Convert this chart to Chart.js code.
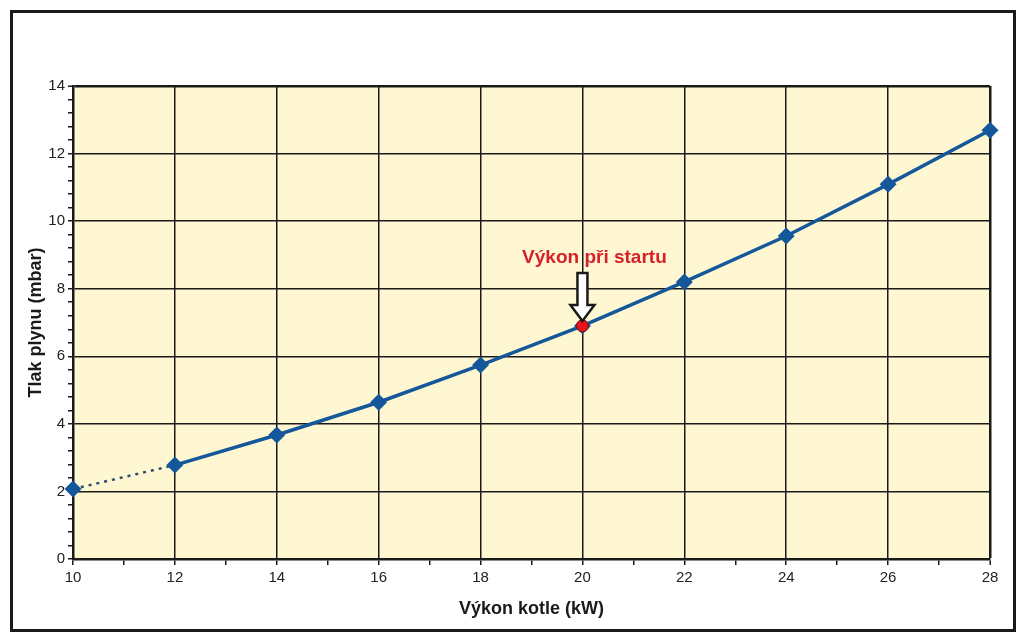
<!DOCTYPE html>
<html>
<head>
<meta charset="utf-8">
<script src="https://cdn.jsdelivr.net/npm/chart.js@4"></script>
<style>
  body { margin: 0; background: #fff; }
  #frame { position: absolute; left: 10px; top: 10px; width: 1000px; height: 616px; border: 3px solid #1a1a1a; }
  #wrap { position: absolute; left: 0; top: 0; width: 1024px; height: 642px; }
</style>
</head>
<body>
<div id="frame"></div>
<div id="wrap"><canvas id="myChart" width="1024" height="642"></canvas></div>
<script>
// data
const vykon = [10, 12, 14, 16, 18, 20, 22, 24, 26, 28];
const tlak = [2.07, 2.78, 3.67, 4.64, 5.74, 6.9, 8.2, 9.56, 11.09, 12.69];
const startX = 20;
const startY = 6.9;
const startLabel = 'Výkon při startu';
const xTitle = 'Výkon kotle (kW)';
const yTitle = 'Tlak plynu (mbar)';

const FONT = '"Liberation Sans", Arial, sans-serif';
const isMajor = (v, step) => Math.abs(v / step - Math.round(v / step)) < 1e-6;

//! plot background >>
const bgPlugin = {
  id: 'bg',
  beforeDraw(chart) {
    const { ctx, chartArea: a } = chart;
    ctx.save();
    ctx.fillStyle = '#fef7d2';
    ctx.fillRect(a.left, a.top, a.right - a.left, a.bottom - a.top);
    ctx.restore();
  }
};

//! arrow + label at start point >>
const startPlugin = {
  id: 'startMark',
  afterDatasetsDraw(chart) {
    const { ctx, scales } = chart;
    const px = scales.x.getPixelForValue(startX);
    const py = scales.y.getPixelForValue(startY);
    const tip = py - 5;
    ctx.save();
    ctx.beginPath();
    ctx.moveTo(px - 5, tip - 48);
    ctx.lineTo(px + 5, tip - 48);
    ctx.lineTo(px + 5, tip - 16);
    ctx.lineTo(px + 12, tip - 16);
    ctx.lineTo(px, tip);
    ctx.lineTo(px - 12, tip - 16);
    ctx.lineTo(px - 5, tip - 16);
    ctx.closePath();
    ctx.fillStyle = '#ffffff';
    ctx.fill();
    ctx.lineWidth = 2.5;
    ctx.lineJoin = 'miter';
    ctx.strokeStyle = '#1a1a1a';
    ctx.stroke();

    ctx.fillStyle = '#d7202a';
    ctx.font = 'bold 19px ' + FONT;
    ctx.textAlign = 'center';
    ctx.textBaseline = 'middle';
    ctx.fillText(startLabel, px + 12, tip - 63);
    ctx.restore();
  }
};

new Chart('myChart', {
  type: 'line',
  data: {
    datasets: [{
      data: vykon.map((v, i) => ({ x: v, y: tlak[i] })),
      borderColor: '#14579a',
      backgroundColor: '#14579a',
      borderWidth: 3.5,
      pointStyle: 'rectRot',
      pointRadius: 6,
      pointHoverRadius: 6,
      tension: 0,
      clip: false,
      segment: {
        borderDash: ctx => ctx.p0DataIndex === 0 ? [3, 5] : undefined,
        borderWidth: ctx => ctx.p0DataIndex === 0 ? 2.5 : undefined,
        borderColor: ctx => ctx.p0DataIndex === 0 ? '#2c4f72' : undefined
      },
      order: 2
    }, {
      data: [{ x: startX, y: startY }],
      showLine: false,
      pointStyle: 'circle',
      pointRadius: 6,
      pointBackgroundColor: '#e8141c',
      pointBorderColor: '#7a1010',
      pointBorderWidth: 1,
      clip: false,
      order: 1
    }]
  },
  options: {
    responsive: false,
    animation: false,
    layout: { padding: { left: 21, top: 86, right: 34, bottom: 20 } },
    plugins: {
      legend: { display: false },
      tooltip: { enabled: false }
    },
    scales: {
      x: {
        type: 'linear',
        min: 10,
        max: 28,
        afterFit: s => { s.height = 63; },
        ticks: {
          stepSize: 1,
          autoSkip: false,
          maxRotation: 0,
          padding: 4,
          color: '#222',
          font: { family: FONT, size: 15 },
          callback: v => isMajor(v, 2) ? v : ''
        },
        grid: {
          color: c => isMajor(c.tick.value, 2) ? '#1a1a1a' : 'transparent',
          lineWidth: c => c.tick.value === 28 ? 2.5 : 1.5,
          tickColor: '#1a1a1a',
          tickLength: 6,
          tickWidth: 1.5
        },
        border: { color: '#1a1a1a', width: 2.5 },
        title: {
          display: true,
          text: xTitle,
          color: '#1a1a1a',
          padding: { top: 4, bottom: 2 },
          font: { family: FONT, size: 18, weight: 'bold' }
        }
      },
      y: {
        min: 0,
        max: 14,
        afterFit: s => { s.width = 52; },
        ticks: {
          stepSize: 0.4,
          autoSkip: false,
          padding: 3,
          color: '#222',
          font: { family: FONT, size: 15 },
          callback: v => isMajor(v, 2) ? Math.round(v) : ''
        },
        grid: {
          color: c => isMajor(c.tick.value, 2) ? '#1a1a1a' : 'transparent',
          lineWidth: c => Math.abs(c.tick.value - 14) < 1e-6 ? 2.5 : 1.5,
          tickColor: '#1a1a1a',
          tickLength: 5,
          tickWidth: 1.5
        },
        border: { color: '#1a1a1a', width: 2.5 },
        title: {
          display: true,
          text: yTitle,
          color: '#1a1a1a',
          padding: { top: 4, bottom: 4 },
          font: { family: FONT, size: 18, weight: 'bold' }
        }
      }
    }
  },
  plugins: [bgPlugin, startPlugin]
});
</script>
</body>
</html>
